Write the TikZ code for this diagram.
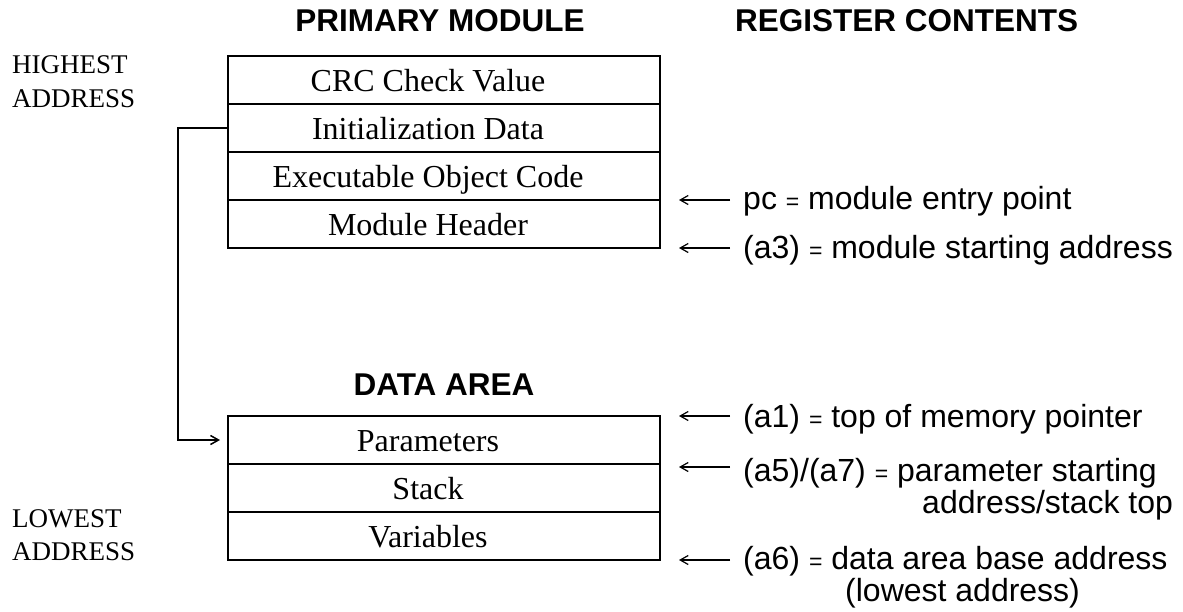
\documentclass[tikz,border=0pt]{standalone}
\usepackage{fontspec}
\setmainfont{Liberation Serif}
\newfontfamily\arialf{Liberation Sans}
\usetikzlibrary{arrows.meta}
\newcommand\smeq{{\fontsize{23}{23}\selectfont=}}
\begin{document}
\begin{tikzpicture}[x=1pt,y=-1pt,
  row/.style={draw, line width=1.5pt, minimum width=432pt, minimum height=48pt, inner sep=0pt, outer sep=0pt},
  boxtext/.style={font=\fontsize{32}{32}\selectfont, inner sep=0pt, text height=22pt, text depth=0pt, xshift=-16pt},
  side/.style={font=\fontsize{27}{27}\selectfont, anchor=base west, inner sep=0pt},
  title/.style={font=\arialf\bfseries\fontsize{31.5}{31.5}\selectfont, anchor=base, inner sep=0pt},
  reg/.style={font=\arialf\fontsize{32}{32}\selectfont, anchor=base west, inner sep=0pt},
  regarrow/.style={line width=1.2pt, -{Straight Barb[length=8pt,width=9pt]}, shorten <=13pt, shorten >=19pt},
  conn/.style={line width=1.5pt, -{Straight Barb[length=8pt,width=9pt]}, shorten >=8pt}
]
\useasboundingbox (0,0) rectangle (1183,611);

% titles
\node[title] (tprim) at (440,31) {PRIMARY MODULE};
\node[title, anchor=base west] (treg) at (735,31) {REGISTER CONTENTS};
\node[title] (tdata) at (444,395) {DATA AREA};

% side labels
\node[side] (hi1) at (12,73) {HIGHEST};
\node[side] (hi2) at (12,107) {ADDRESS};
\node[side] (lo1) at (12,527) {LOWEST};
\node[side] (lo2) at (12,560) {ADDRESS};

% primary module
\node[row] (crc) at (444,80) {};
\node[boxtext] (crct) at (crc.center) {CRC Check Value};
\node[row] (init) at (444,128) {};
\node[boxtext] (initt) at (init.center) {Initialization Data};
\node[row] (exec) at (444,176) {};
\node[boxtext] (exect) at (exec.center) {Executable Object Code};
\node[row] (hdr) at (444,224) {};
\node[boxtext] (hdrt) at (hdr.center) {Module Header};

% data area
\node[row] (param) at (444,440) {};
\node[boxtext] (paramt) at (param.center) {Parameters};
\node[row] (stack) at (444,488) {};
\node[boxtext] (stackt) at (stack.center) {Stack};
\node[row] (var) at (444,536) {};
\node[boxtext] (vart) at (var.center) {Variables};

% connector
\draw[conn] (init.west) -- ++(-50,0) |- (param.west);

% register contents
\node[reg] (rpc) at (743,209) {pc \smeq{} module entry point};
\node[reg] (ra3) at (743,258) {(a3) \smeq{} module starting address};
\node[reg] (ra1) at (743,427) {(a1) \smeq{} top of memory pointer};
\node[reg] (ra5) at (743,481) {(a5)/(a7) \smeq{} parameter starting};
\node[reg] (ra5b) at (922,513) {address/stack top};
\node[reg] (ra6) at (743,569) {(a6) \smeq{} data area base address};
\node[reg] (ra6b) at (845,601) {(lowest address)};

\draw[regarrow] (rpc.west |- hdr.north east) -- (hdr.north east);
\draw[regarrow] (ra3.west |- hdr.south east) -- (hdr.south east);
\draw[regarrow] (ra1.west |- param.north east) -- (param.north east);
\draw[regarrow] ([yshift=-3pt]ra5.west |- param.south east) -- ([yshift=-3pt]param.south east);
\draw[regarrow] (ra6.west |- var.south east) -- (var.south east);
\end{tikzpicture}
\end{document}
